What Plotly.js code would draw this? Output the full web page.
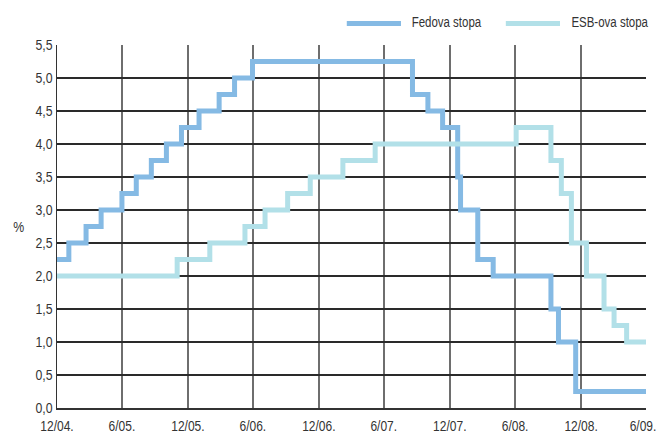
<!DOCTYPE html>
<html>
<head>
<meta charset="utf-8">
<script src="https://cdn.plot.ly/plotly-3.0.1.min.js"></script>
<style>
html,body{margin:0;padding:0;background:#fff;}
#chart{width:658px;height:432px;}
</style>
</head>
<body>
<div id="chart"></div>
<script>
// Series names
const seriesNames = ["Fedova stopa", "ESB-ova stopa"];

// Fed funds target rate (change dates, %)
const fedDates = ["2004-12-31","2005-02-02","2005-03-22","2005-05-03","2005-06-30","2005-08-09","2005-09-20","2005-11-01","2005-12-13","2006-01-31","2006-03-28","2006-05-10","2006-06-29","2007-09-18","2007-10-31","2007-12-11","2008-01-22","2008-01-30","2008-03-18","2008-04-30","2008-10-08","2008-10-29","2008-12-16","2009-06-30"];
const fedValues = [2.25,2.50,2.75,3.00,3.25,3.50,3.75,4.00,4.25,4.50,4.75,5.00,5.25,4.75,4.50,4.25,3.50,3.00,2.25,2.00,1.50,1.00,0.25,0.25];

// ECB main refinancing rate (change dates, %)
const esbDates = ["2004-12-31","2005-12-01","2006-03-02","2006-06-08","2006-08-03","2006-10-05","2006-12-07","2007-03-08","2007-06-06","2008-07-03","2008-10-08","2008-11-06","2008-12-04","2009-01-15","2009-03-05","2009-04-02","2009-05-07","2009-06-30"];
const esbValues = [2.00,2.25,2.50,2.75,3.00,3.25,3.50,3.75,4.00,4.25,3.75,3.25,2.50,2.00,1.50,1.25,1.00,1.00];

// Axis ticks
const xTickVals = ["2004-12-31","2005-06-30","2005-12-31","2006-06-30","2006-12-31","2007-06-30","2007-12-31","2008-06-30","2008-12-31","2009-06-30"];
const xTickText = ["12/04.","6/05.","12/05.","6/06.","12/06.","6/07.","12/07.","6/08.","12/08.","6/09."];
const yTickVals = [0,0.5,1,1.5,2,2.5,3,3.5,4,4.5,5,5.5];
const yTickText = ["0,0","0,5","1,0","1,5","2,0","2,5","3,0","3,5","4,0","4,5","5,0","5,5"];

const colors = ["#85bae4", "#b2e0e8"];
const FONT = "'Liberation Sans', Arial, sans-serif";
const TXT = "#333333";

const traces = [
  {x: fedDates, y: fedValues, name: seriesNames[0], type: "scatter", mode: "lines",
   line: {color: colors[0], width: 5, shape: "hv"}, showlegend: false, hoverinfo: "skip"},
  {x: esbDates, y: esbValues, name: seriesNames[1], type: "scatter", mode: "lines",
   line: {color: colors[1], width: 5, shape: "hv"}, showlegend: false, hoverinfo: "skip"}
];

const layout = {
  width: 658, height: 432,
  margin: {l: 57, r: 12, t: 45, b: 24},
  paper_bgcolor: "#ffffff", plot_bgcolor: "#ffffff",
  font: {family: FONT, size: 15, color: TXT},
  xaxis: {
    type: "date", range: ["2004-12-31", "2009-06-30"],
    tickmode: "array", tickvals: xTickVals, ticktext: xTickText,
    showgrid: true, gridcolor: "#6e6e6e", gridwidth: 1.5,
    showline: true, linecolor: "#333333", linewidth: 1.5,
    zeroline: false, ticks: "", fixedrange: true, ticklabelstandoff: 3,
    ticklabeloverflow: "allow",
    tickfont: {family: FONT, size: 15, color: TXT}
  },
  yaxis: {
    range: [0, 5.5], tickmode: "array", tickvals: yTickVals, ticktext: yTickText,
    showgrid: true, gridcolor: "#2a2a2a", gridwidth: 1.2,
    showline: true, linecolor: "#333333", linewidth: 1.5,
    zeroline: false, ticks: "", fixedrange: true,
    tickfont: {family: FONT, size: 15, color: TXT}
  },
  shapes: [
    {type: "line", xref: "paper", yref: "paper", x0: 0.492, x1: 0.584, y0: 1.059, y1: 1.059,
     line: {color: colors[0], width: 5}},
    {type: "line", xref: "paper", yref: "paper", x0: 0.762, x1: 0.854, y0: 1.059, y1: 1.059,
     line: {color: colors[1], width: 5}}
  ],
  annotations: [
    {text: seriesNames[0], xref: "paper", yref: "paper", x: 0.662, y: 1.062,
     xanchor: "center", yanchor: "middle", showarrow: false, font: {family: FONT, size: 14, color: TXT}},
    {text: seriesNames[1], xref: "paper", yref: "paper", x: 0.939, y: 1.062,
     xanchor: "center", yanchor: "middle", showarrow: false, font: {family: FONT, size: 14, color: TXT}},
    {text: "%", xref: "paper", yref: "y", x: 0, y: 2.75, xshift: -39,
     xanchor: "center", yanchor: "middle", showarrow: false, font: {family: FONT, size: 15, color: TXT}}
  ]
};

// Narrow the glyphs to imitate the condensed typeface of the original
function condense(selector, factor) {
  document.querySelectorAll(selector).forEach(function (t) {
    const w = t.getComputedTextLength();
    if (w > 0) {
      t.setAttribute("textLength", (w * factor).toFixed(2));
      t.setAttribute("lengthAdjust", "spacingAndGlyphs");
    }
  });
}

Plotly.newPlot("chart", traces, layout, {displayModeBar: false, staticPlot: true}).then(function () {
  condense("#chart .xtick text", 0.8);
  condense("#chart .ytick text", 0.82);
  condense("#chart .annotation-text", 0.82);
  // the last date label sits slightly left of its tick so it stays inside the picture, as in the original
  const xt = document.querySelectorAll("#chart .xtick text");
  if (xt.length) xt[xt.length - 1].setAttribute("dx", "-3");
});
</script>
</body>
</html>
